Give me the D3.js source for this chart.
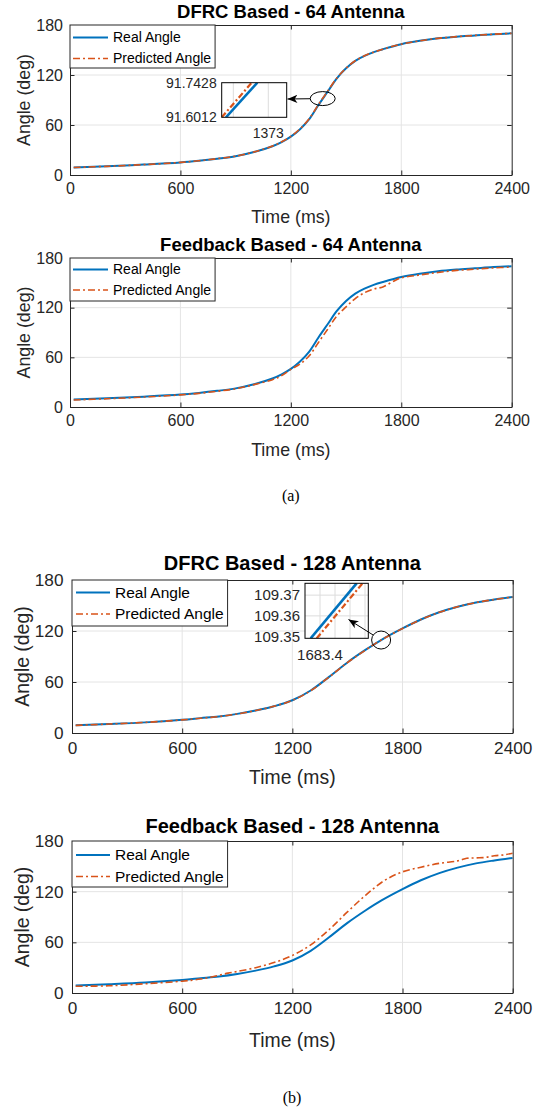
<!DOCTYPE html>
<html>
<head>
<meta charset="utf-8">
<script src="https://cdn.jsdelivr.net/npm/d3@7"></script>
<style>
body{margin:0;background:#fff}
svg{display:block;font-family:"Liberation Sans",Arial,sans-serif}
</style>
</head>
<body>
<svg id="drawing_region"></svg>
<script>
// ---- data ----
const x_ticks = [0, 600, 1200, 1800, 2400]
const y_ticks = [0, 60, 120, 180]
const legend_labels = ['Real Angle', 'Predicted Angle']

const time_64 = [20, 200, 400, 600, 700, 800, 900, 1000, 1100, 1150, 1200, 1250, 1300, 1350, 1400, 1450, 1500, 1550, 1600, 1650, 1700, 1800, 1900, 2000, 2100, 2200, 2300, 2400]
const real_64 = [9, 10.5, 12.5, 15, 17, 19.5, 22.5, 27.5, 34.5, 39.5, 46, 55, 67, 84, 100, 116, 128, 137, 143, 147.5, 151, 157, 161, 164, 166, 167.5, 169, 170]
const pred_dfrc_64 = [9, 10.4, 12.4, 15.1, 17.1, 19.6, 22.6, 27.6, 34.7, 39.8, 46.4, 55.5, 67.6, 84.7, 100.6, 116.4, 128.2, 137.1, 143, 147.4, 151, 157, 161, 164, 166, 167.5, 168.9, 170]
const time_fb_64 = [20, 200, 400, 600, 700, 800, 900, 1000, 1100, 1150, 1200, 1250, 1300, 1350, 1400, 1450, 1500, 1550, 1600, 1650, 1700, 1750, 1800, 1900, 2000, 2100, 2200, 2300, 2400]
const pred_fb_64 = [8.5, 10, 12, 14.6, 16.5, 19, 22, 27, 33, 38, 45.5, 52, 62, 78, 94, 110, 121, 131, 138, 142.5, 145, 151, 156, 159.5, 162.5, 165, 166.5, 168, 169]

const time_128 = [20, 200, 400, 600, 700, 800, 900, 1000, 1100, 1200, 1300, 1400, 1500, 1600, 1683.4, 1800, 1900, 2000, 2100, 2200, 2300, 2400]
const real_128 = [9, 10.5, 12.5, 15.5, 17.5, 19.5, 22.5, 26.5, 31.5, 38.5, 50, 66, 83, 98, 109.36, 123, 133.5, 142, 148.5, 153.5, 157, 160]
const pred_dfrc_128 = [9, 10.5, 12.5, 15.4, 17.4, 19.4, 22.4, 26.4, 31.4, 38.4, 49.8, 65.8, 82.8, 97.8, 109.35, 122.9, 133.4, 142, 148.5, 153.5, 157, 160]
const time_fb_128 = [20, 200, 400, 600, 700, 750, 800, 850, 900, 1000, 1100, 1200, 1300, 1400, 1500, 1600, 1700, 1800, 1900, 2000, 2100, 2150, 2200, 2250, 2300, 2350, 2400]
const pred_fb_128 = [8, 8.5, 11, 14, 16.5, 18.5, 21, 23.5, 25.5, 30, 36, 44.5, 57, 75, 96, 116, 133, 143.5, 149, 153.5, 156.5, 159.5, 160, 160.5, 162.5, 163.5, 165.5]

// zoomed insets (straight segments)
const inset_v_64 = [91.6012, 91.7428]
const inset_t_64_real = [1372.395, 1372.843]
const inset_t_64_pred = [1372.334, 1372.763]
const inset_v_128 = [109.3492, 109.3757]
const inset_t_128_real = [1683.369, 1683.522]
const inset_t_128_pred = [1683.389, 1683.542]

const zip = (xs, ys) => xs.map((x, i) => ({t: x, v: ys[i]}))

class AnglePanel{
    constructor(config){
        this.config = config
        this.init()
    }

    init(){
        let self = this
        const c = self.config
        self.g = d3.select(c.parent).append('g')
        self.xscale = d3.scaleLinear().domain([0, 2400]).range([c.left, c.right])
        self.yscale = d3.scaleLinear().domain([0, 180]).range([c.bottom, c.top])
    }

    render(){
        let self = this
        const c = self.config
        const g = self.g
        const x = self.xscale, y = self.yscale

        // grid
        g.append('g').selectAll('line').data(x_ticks.slice(1, -1)).join('line')
            .attr('x1', d => x(d)).attr('x2', d => x(d))
            .attr('y1', c.top).attr('y2', c.bottom)
            .attr('stroke', '#e4e4e4').attr('stroke-width', 1)
        g.append('g').selectAll('line').data(y_ticks.slice(1, -1)).join('line')
            .attr('y1', d => y(d)).attr('y2', d => y(d))
            .attr('x1', c.left).attr('x2', c.right)
            .attr('stroke', '#e4e4e4').attr('stroke-width', 1)

        // curves
        const clipId = 'clip' + c.id
        g.append('clipPath').attr('id', clipId).append('rect')
            .attr('x', c.left).attr('y', c.top)
            .attr('width', c.right - c.left).attr('height', c.bottom - c.top)
        const line = d3.line().x(d => x(d.t)).y(d => y(d.v)).curve(d3.curveCatmullRom.alpha(0.5))
        const lines = g.append('g').attr('clip-path', `url(#${clipId})`)
        lines.append('path').datum(c.real)
            .attr('d', line).attr('fill', 'none')
            .attr('stroke', '#0072bd').attr('stroke-width', 2)
        lines.append('path').datum(c.pred)
            .attr('d', line).attr('fill', 'none')
            .attr('stroke', '#d95319').attr('stroke-width', 1.6)
            .attr('stroke-dasharray', '7,3,2,3')

        // axes (ticks inward, box on)
        const tl = 4.5
        const fmt = d3.format('d')
        const xb = d3.axisBottom(x).tickValues(x_ticks).tickFormat(fmt).tickSizeInner(-tl).tickSizeOuter(0).tickPadding(c.xTickPad)
        const yl = d3.axisLeft(y).tickValues(y_ticks).tickFormat(fmt).tickSizeInner(-tl).tickSizeOuter(0).tickPadding(c.yTickPad)
        const xt = d3.axisTop(x).tickValues(x_ticks).tickSizeInner(-tl).tickSizeOuter(0).tickFormat('')
        const yr = d3.axisRight(y).tickValues(y_ticks).tickSizeInner(-tl).tickSizeOuter(0).tickFormat('')

        const gx = g.append('g').attr('transform', `translate(0,${c.bottom})`).call(xb)
        const gy = g.append('g').attr('transform', `translate(${c.left},0)`).call(yl)
        const gt = g.append('g').attr('transform', `translate(0,${c.top})`).call(xt)
        const gr = g.append('g').attr('transform', `translate(${c.right},0)`).call(yr)
        ;[gx, gy, gt, gr].forEach(a => {
            a.select('.domain').attr('stroke', '#262626').attr('stroke-width', 1)
            a.selectAll('.tick line').attr('stroke', '#262626').attr('stroke-width', 1)
            a.selectAll('.tick text').attr('fill', '#262626')
                .attr('font-size', c.fs.tick).attr('font-family', '"Liberation Sans",Arial,sans-serif')
        })

        // labels
        g.append('text').text(c.title)
            .attr('x', (c.left + c.right) / 2).attr('y', c.titleY).attr('dy', '0.35em')
            .attr('text-anchor', 'middle').attr('font-weight', 'bold')
            .attr('font-size', c.fs.title).attr('fill', '#000')
        g.append('text').text('Time (ms)')
            .attr('x', (c.left + c.right) / 2).attr('y', c.bottom + c.xLabelOff).attr('dy', '0.35em')
            .attr('text-anchor', 'middle').attr('font-size', c.fs.label).attr('fill', '#262626')
        g.append('text').text('Angle (deg)')
            .attr('transform', `translate(${c.yLabelX},${(c.top + c.bottom) / 2}) rotate(-90)`)
            .attr('dy', '0.35em')
            .attr('text-anchor', 'middle').attr('font-size', c.fs.label).attr('fill', '#262626')

        self.legend()
        if(c.inset) self.inset()
    }

    legend(){
        let self = this
        const c = self.config
        const lg = self.g.append('g')
        const box = lg.append('rect')
            .attr('x', c.left).attr('y', c.top)
            .attr('height', c.legend.h)
            .attr('fill', '#fff').attr('stroke', '#262626').attr('stroke-width', 1)
        let maxw = 0
        legend_labels.forEach((lab, i) => {
            const yy = c.top + c.legend.rows[i]
            const ln = lg.append('line')
                .attr('x1', c.left + c.legend.l0).attr('x2', c.left + c.legend.l1)
                .attr('y1', yy).attr('y2', yy)
            if(i === 0){
                ln.attr('stroke', '#0072bd').attr('stroke-width', 2)
            }else{
                ln.attr('stroke', '#d95319').attr('stroke-width', 1.6).attr('stroke-dasharray', '7,3,2,3')
            }
            const t = lg.append('text').text(lab)
                .attr('x', c.left + c.legend.tx).attr('y', yy).attr('dy', '0.35em')
                .attr('font-size', c.fs.legend).attr('fill', '#000')
            maxw = Math.max(maxw, t.node().getComputedTextLength())
        })
        box.attr('width', c.legend.tx + maxw + 4)
    }

    inset(){
        let self = this
        const c = self.config
        const ins = c.inset
        const g = self.g.append('g')
        const ix = d3.scaleLinear().domain(ins.xdomain).range([ins.x0, ins.x1])
        const iy = d3.scaleLinear().domain(ins.ydomain).range([ins.y1, ins.y0])

        g.append('rect').attr('x', ins.x0).attr('y', ins.y0)
            .attr('width', ins.x1 - ins.x0).attr('height', ins.y1 - ins.y0)
            .attr('fill', '#fff')
        g.selectAll('.vg').data(ins.xgrid).join('line')
            .attr('x1', d => ix(d)).attr('x2', d => ix(d))
            .attr('y1', ins.y0).attr('y2', ins.y1)
            .attr('stroke', '#dcdcdc').attr('stroke-width', 1)
        g.selectAll('.hg').data(ins.ygrid).join('line')
            .attr('y1', d => iy(d)).attr('y2', d => iy(d))
            .attr('x1', ins.x0).attr('x2', ins.x1)
            .attr('stroke', '#dcdcdc').attr('stroke-width', 1)

        const clipId = 'iclip' + c.id
        g.append('clipPath').attr('id', clipId).append('rect')
            .attr('x', ins.x0).attr('y', ins.y0)
            .attr('width', ins.x1 - ins.x0).attr('height', ins.y1 - ins.y0)
        const line = d3.line().x(d => ix(d.t)).y(d => iy(d.v))
        const lg = g.append('g').attr('clip-path', `url(#${clipId})`)
        lg.append('path').datum(ins.real).attr('d', line)
            .attr('fill', 'none').attr('stroke', '#0072bd').attr('stroke-width', 2.6)
        lg.append('path').datum(ins.pred).attr('d', line)
            .attr('fill', 'none').attr('stroke', '#d95319').attr('stroke-width', 2.2)
            .attr('stroke-dasharray', '6,2.5,2,2.5')

        g.append('rect').attr('x', ins.x0).attr('y', ins.y0)
            .attr('width', ins.x1 - ins.x0).attr('height', ins.y1 - ins.y0)
            .attr('fill', 'none').attr('stroke', '#000').attr('stroke-width', 1)

        g.selectAll('.yl').data(ins.yticks).join('text')
            .text(d => d3.format(ins.yfmt)(d))
            .attr('x', ins.x0 - 5).attr('y', d => iy(d)).attr('dy', '0.35em')
            .attr('text-anchor', 'end').attr('font-size', ins.fs).attr('fill', '#262626')
        g.selectAll('.xl').data(ins.xticks).join('text')
            .text(d => d3.format(ins.xfmt)(d))
            .attr('x', d => ix(d)).attr('y', ins.xLabelY).attr('dy', '0.35em')
            .attr('text-anchor', 'middle').attr('font-size', ins.fs).attr('fill', '#262626')

        // ellipse marking the zoomed spot and arrow to the inset
        const cx = self.xscale(ins.mark[0]), cy = self.yscale(ins.mark[1])
        g.append('ellipse').attr('cx', cx).attr('cy', cy)
            .attr('rx', ins.rx).attr('ry', ins.ry)
            .attr('fill', 'none').attr('stroke', '#000').attr('stroke-width', 1)
        const dx = ins.arrowTo[0] - cx, dy = ins.arrowTo[1] - cy
        const k = 1 / Math.sqrt((dx / ins.rx) ** 2 + (dy / ins.ry) ** 2)
        const mid = 'arrow' + c.id
        self.g.append('defs').append('marker').attr('id', mid)
            .attr('viewBox', '0 -5 12 10').attr('refX', 11).attr('refY', 0)
            .attr('markerUnits', 'userSpaceOnUse')
            .attr('markerWidth', 11).attr('markerHeight', 9).attr('orient', 'auto')
            .append('path').attr('d', 'M0,-4.5L11,0L0,4.5L3,0Z').attr('fill', '#000')
        g.append('line')
            .attr('x1', cx + dx * k).attr('y1', cy + dy * k)
            .attr('x2', ins.arrowTo[0]).attr('y2', ins.arrowTo[1])
            .attr('stroke', '#000').attr('stroke-width', 1)
            .attr('marker-end', `url(#${mid})`)
    }
}

const svg = d3.select('#drawing_region').attr('width', 539).attr('height', 1112)

const small = {tick: 16, label: 17.8, title: 18.5, legend: 14}
const big = {tick: 17.2, label: 19.4, title: 20, legend: 15.5}

const configs = [
    {id: 1, parent: '#drawing_region', title: 'DFRC Based - 64 Antenna',
     left: 70, right: 511.7, top: 25, bottom: 175, titleY: 12, xLabelOff: 42, yLabelX: 24,
     xTickPad: 8, yTickPad: 7, fs: small,
     legend: {h: 43, rows: [12.5, 33.5], l0: 3, l1: 38, tx: 43},
     real: zip(time_64, real_64), pred: zip(time_64, pred_dfrc_64),
     inset: {x0: 221.7, x1: 286.7, y0: 82.7, y1: 117.3,
             xdomain: [1372.334, 1373.263], ydomain: inset_v_64,
             xgrid: [1372.5, 1373], ygrid: [], xticks: [1373], yticks: inset_v_64,
             xfmt: 'd', yfmt: '.4f', xLabelY: 132.7, fs: 14,
             real: zip(inset_t_64_real, inset_v_64), pred: zip(inset_t_64_pred, inset_v_64),
             mark: [1373, 91.7], rx: 12.5, ry: 7, arrowTo: [287.5, 99]}},
    {id: 2, parent: '#drawing_region', title: 'Feedback Based - 64 Antenna',
     left: 70, right: 511.7, top: 258, bottom: 407, titleY: 245, xLabelOff: 43, yLabelX: 24,
     xTickPad: 8, yTickPad: 7, fs: small,
     legend: {h: 43, rows: [11.5, 32], l0: 3, l1: 38, tx: 43},
     real: zip(time_64, real_64), pred: zip(time_fb_64, pred_fb_64)},
    {id: 3, parent: '#drawing_region', title: 'DFRC Based - 128 Antenna',
     left: 72, right: 512.7, top: 580, bottom: 733, titleY: 563, xLabelOff: 44, yLabelX: 22,
     xTickPad: 9, yTickPad: 8.5, fs: big,
     legend: {h: 46, rows: [12.5, 34], l0: 4, l1: 38, tx: 43},
     real: zip(time_128, real_128), pred: zip(time_128, pred_dfrc_128),
     inset: {x0: 305, x1: 368.3, y0: 583.3, y1: 638.3,
             xdomain: [1683.35, 1683.561], ydomain: inset_v_128,
             xgrid: [1683.4, 1683.45, 1683.5, 1683.55], ygrid: [109.36, 109.37],
             xticks: [1683.4], yticks: [109.35, 109.36, 109.37],
             xfmt: '.1f', yfmt: '.2f', xLabelY: 655, fs: 15,
             real: zip(inset_t_128_real, inset_v_128), pred: zip(inset_t_128_pred, inset_v_128),
             mark: [1683.4, 109.36], rx: 9.5, ry: 9, arrowTo: [348.5, 619.5]}},
    {id: 4, parent: '#drawing_region', title: 'Feedback Based - 128 Antenna',
     left: 72, right: 512.7, top: 841, bottom: 993, titleY: 826, xLabelOff: 47, yLabelX: 22,
     xTickPad: 9, yTickPad: 8.5, fs: big,
     legend: {h: 46, rows: [14, 35.5], l0: 4, l1: 38, tx: 43},
     real: zip(time_128, real_128), pred: zip(time_fb_128, pred_fb_128)}
]

configs.forEach(cfg => {
    const p = new AnglePanel(cfg)
    p.render()
})

svg.append('text').text('(a)')
    .attr('x', 290.8).attr('y', 495).attr('dy', '0.35em')
    .attr('text-anchor', 'middle').attr('font-family', '"Liberation Serif","Times New Roman",serif')
    .attr('font-size', 16).attr('fill', '#000')
svg.append('text').text('(b)')
    .attr('x', 292).attr('y', 1097).attr('dy', '0.35em')
    .attr('text-anchor', 'middle').attr('font-family', '"Liberation Serif","Times New Roman",serif')
    .attr('font-size', 16).attr('fill', '#000')
</script>
</body>
</html>
